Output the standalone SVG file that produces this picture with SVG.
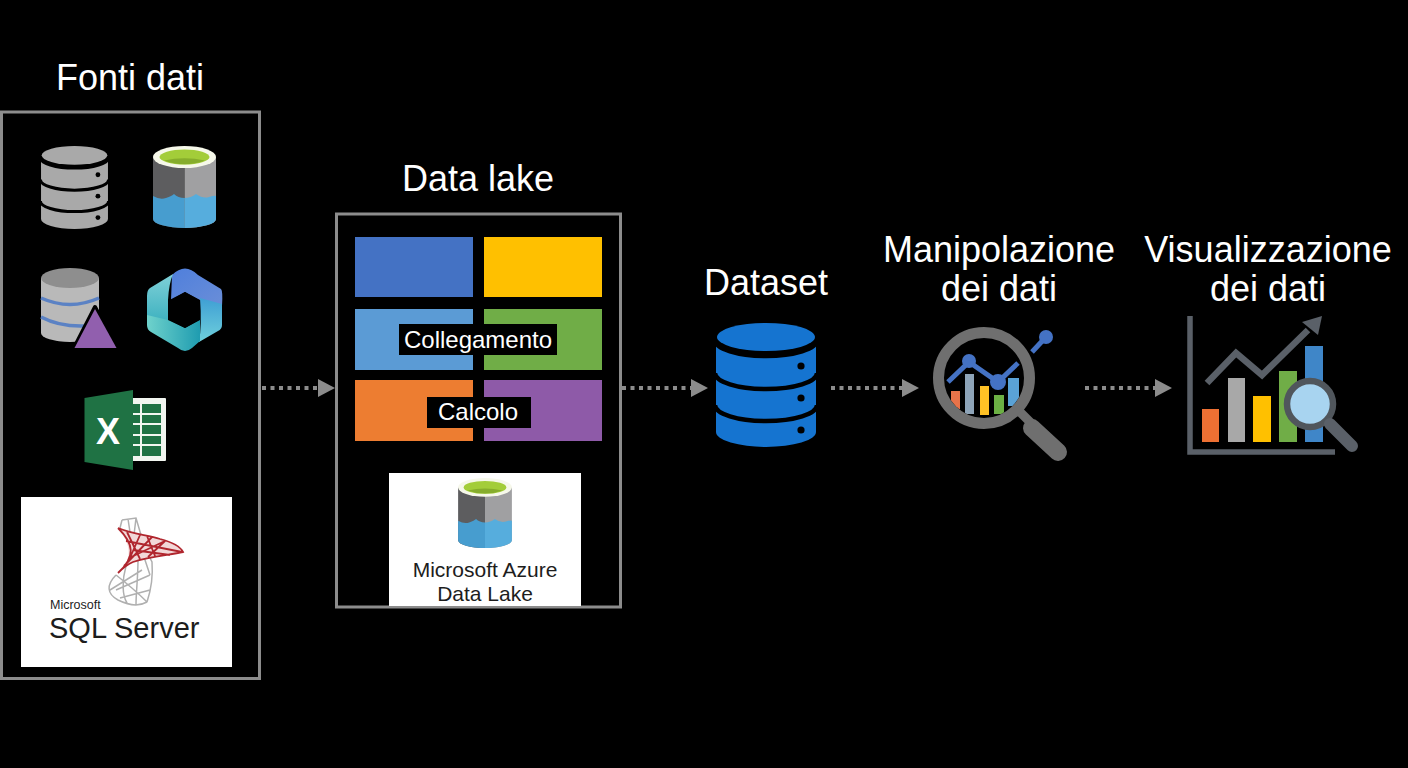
<svg xmlns="http://www.w3.org/2000/svg" width="1408" height="768" viewBox="0 0 1408 768">
<style>
text{font-family:"Liberation Sans",Arial,sans-serif;fill:#fff;text-anchor:middle}
.title{font-size:36px}
.tile-label{font-size:24px}
.frame{fill:none;stroke:#8c8c8c;stroke-width:3}
.flow{stroke:#8c8c8c;stroke-width:4;stroke-dasharray:4 4.5;fill:none}
.band{fill:none;stroke:#000;stroke-width:4.500}
.dark{fill:#000}
.paper{fill:#fff}
.logo{fill:#1d1d1d;text-anchor:start}
.azure{fill:#1d1d1d;font-size:21px}
.red{fill:none;stroke:#b0262e;stroke-width:1.800}
.grey{fill:none;stroke:#b0b0b0;stroke-width:1.500}
</style>
<defs>
<marker id="head" viewBox="0 0 17 18" refX="0" refY="9" markerWidth="17" markerHeight="18" markerUnits="userSpaceOnUse" orient="auto"><path d="M0 0L17 9L0 18Z" fill="#8c8c8c"/></marker>
<symbol id="db" viewBox="0 0 100 124" overflow="visible">
<ellipse cx="50" cy="14" rx="49" ry="14"/>
<path d="M0 18A50 15 0 0 0 100 18V109A50 15 0 0 1 0 109Z"/>
<path class="band" d="M-1 17A51 16 0 0 0 101 17M-1 50A51 16 0 0 0 101 50M-1 82A51 16 0 0 0 101 82"/>
<circle class="dark" cx="85" cy="43" r="3.600"/><circle class="dark" cx="85" cy="75" r="3.600"/><circle class="dark" cx="85" cy="107" r="3.600"/>
</symbol>
<symbol id="lake" viewBox="0 0 63 82" overflow="visible">
<path d="M0 11H31.500V82A31.500 9 0 0 1 0 73Z" fill="#5d5d5f"/>
<path d="M31.500 11H63V73A31.500 9 0 0 1 31.500 82Z" fill="#a0a0a2"/>
<path d="M0 50Q7 54 13 52T21 48Q25 52 31.500 52V82A31.500 9 0 0 1 0 73Z" fill="#479dcf"/>
<path d="M31.500 52Q38 52 43 48Q50 53 56 51T63 50V73A31.500 9 0 0 1 31.500 82Z" fill="#56addd"/>
<ellipse cx="31.500" cy="11" rx="31.500" ry="11" fill="#f6f8ea"/>
<ellipse cx="31.500" cy="11" rx="25" ry="7.500" fill="#a3cd39"/>
<path d="M11 14.500Q31.500 10 52 14.500Q31.500 22 11 14.500Z" fill="#86ad2c"/>
</symbol>
<linearGradient id="hexTop" x1="0" y1="0" x2="1" y2="1"><stop offset="0" stop-color="#4f7fdc"/><stop offset="1" stop-color="#6a8ed8"/></linearGradient>
<linearGradient id="hexLeft" x1="0" y1="0" x2="0" y2="1"><stop offset="0" stop-color="#7fd0d8"/><stop offset="1" stop-color="#3fb2c0"/></linearGradient>
<linearGradient id="hexRight" x1="0" y1="0" x2="0" y2="1"><stop offset="0" stop-color="#3f9fd4"/><stop offset="1" stop-color="#6fd0dc"/></linearGradient>
<linearGradient id="hexBottom" x1="0" y1="0" x2="1" y2="0"><stop offset="0" stop-color="#6fd2cc"/><stop offset="1" stop-color="#1f9cb0"/></linearGradient>
<clipPath id="lens"><circle cx="984" cy="378" r="40"/></clipPath>
</defs>
<rect width="1408" height="768" fill="#000"/>

<g id="connectors">
<path class="flow" d="M262 388H318" marker-end="url(#head)"/>
<path class="flow" d="M622 388H691" marker-end="url(#head)"/>
<path class="flow" d="M831 388H902" marker-end="url(#head)"/>
<path class="flow" d="M1085 388H1155" marker-end="url(#head)"/>
</g>

<g id="fonti-dati">
<text class="title" x="130" y="90">Fonti dati</text>
<rect class="frame" x="1.500" y="112" width="258" height="566.500"/>
<use href="#db" x="41" y="146" width="67" height="83" fill="#a9a9a9"/>
<use href="#lake" x="153" y="146" width="63" height="82"/>
<g id="sql-analysis">
<path d="M41 278H99V333A29 9 0 0 1 41 333Z" fill="#b9b9b9"/>
<ellipse cx="70" cy="278" rx="29" ry="10" fill="#8e8e8e"/>
<path d="M41 298Q70 311 99 298M41 317Q60 327 85 326" fill="none" stroke="#5b82c4" stroke-width="3.500"/>
<path d="M95 307L117 348H74Z" fill="#915fae" stroke="#000" stroke-width="4" stroke-linejoin="round"/>
<path d="M95 309L116.500 348H74.500Z" fill="#915fae"/>
</g>
<g id="hex-logo" stroke-linejoin="round">
<path d="M172 275Q185 262 198 275L221 289Q223 291 222 306L200 300L185 292L171 300Z" fill="url(#hexTop)"/>
<path d="M173 274L150 288Q147 290 147 296V316L168 321V300Q169 283 173 274Z" fill="url(#hexLeft)"/>
<path d="M200 298L222 304V325Q222 329 218 331L199 342Q202 325 200 298Z" fill="url(#hexRight)"/>
<path d="M147 315L168 320L185 328L200 320V341L192 348Q185 354 178 348L151 332Q147 330 147 325Z" fill="url(#hexBottom)"/>
<path d="M185 292L200 300.500V319.500L185 328L168.500 319.500V300.500Z" fill="#000"/>
</g>
<g id="excel">
<rect x="126" y="398" width="40" height="63" rx="1" fill="#f2f6f0"/>
<path d="M141 404H161V456H133V404Z" fill="#1f7244"/>
<path d="M141 404V456M133 414H161M133 424H161M133 435H161M133 445H161" stroke="#f2f6f0" stroke-width="2" fill="none"/>
<path d="M84.500 398L133 390V470L84.500 462Z" fill="#1f7244"/>
<text x="108" y="444" font-size="36" font-weight="700">X</text>
</g>
<g id="sql-server">
<rect class="paper" x="21" y="497" width="211" height="170"/>
<path class="grey" d="M122 520L136 518L141 535L147 552L152 562C153 575 151 590 147 602M122 520L120 528M128 519L130 532M136 518L134 535M116 575C106 585 107 594 118 600C130 606 140 606 147 602M116 575C125 582 140 595 147 602M126 566C122 580 122 595 127 603M138 560C138 578 136 592 136 605M116 590L150 575M110 590L142 570M120 598L150 590M140 545L150 575"/>
<path d="M118 528C132 534 147 535 160 539C172 542 180 546 183 552C170 555 150 556 133 562C126 565 122 569 118 573C128 565 136 550 118 528Z" fill="#f2d8d8"/>
<path class="red" d="M118 528C132 534 147 535 160 539C172 542 180 546 183 552C170 555 150 556 133 562C126 565 122 569 118 573M118 528C134 544 136 556 118 573M127 532L140 559M140 535L129 560M152 537L124 566M165 541L148 557M126 541L182 552M133 550L170 555M129 558L165 541M147 536L155 556"/>
<text class="logo" x="50" y="608.500" font-size="12.500">Microsoft</text>
<text class="logo" x="49" y="637.500" font-size="29">SQL Server</text>
</g>
</g>

<g id="data-lake">
<text class="title" x="478" y="191">Data lake</text>
<rect class="frame" x="336.500" y="214" width="284" height="393"/>
<rect x="355" y="237" width="118" height="60" fill="#4472c4"/>
<rect x="484" y="237" width="118" height="60" fill="#ffc000"/>
<rect x="355" y="309" width="118" height="61" fill="#5b9bd5"/>
<rect x="484" y="309" width="118" height="61" fill="#70ad47"/>
<rect x="355" y="380" width="118" height="61" fill="#ed7d31"/>
<rect x="484" y="380" width="118" height="61" fill="#8e5aa8"/>
<g id="collegamento"><rect class="dark" x="399" y="324" width="158" height="31"/><text class="tile-label" x="478" y="348">Collegamento</text></g>
<g id="calcolo"><rect class="dark" x="427" y="397" width="104" height="31"/><text class="tile-label" x="478" y="420">Calcolo</text></g>
<g id="azure-data-lake">
<rect class="paper" x="389" y="473" width="192" height="133"/>
<use href="#lake" x="457" y="478" width="56" height="70"/>
<text class="azure" x="485" y="576.500">Microsoft Azure</text>
<text class="azure" x="485" y="600.500">Data Lake</text>
</g>
</g>

<g id="dataset">
<text class="title" x="766" y="295">Dataset</text>
<use href="#db" x="716" y="323" width="100" height="124" fill="#1574d0"/>
</g>

<g id="manipolazione">
<text class="title" x="999" y="262">Manipolazione</text>
<text class="title" x="999" y="301">dei dati</text>
<g clip-path="url(#lens)">
<rect x="951" y="391" width="9" height="18" fill="#e8734a"/>
<rect x="965" y="374" width="9" height="40" fill="#8ea4b8"/>
<rect x="980" y="386" width="9" height="29" fill="#ffc125"/>
<rect x="994" y="395" width="10" height="19" fill="#6cb044"/>
<rect x="1008" y="378" width="11" height="28" fill="#5aa2d6"/>
</g>
<path d="M948 382L969 362L998 382L1018 363M1032 352L1046 337" fill="none" stroke="#4472c4" stroke-width="5"/>
<circle cx="969" cy="361" r="7" fill="#4472c4"/>
<circle cx="998" cy="382" r="8" fill="#4472c4"/>
<circle cx="1046" cy="337" r="7" fill="#4472c4"/>
<circle cx="984" cy="378" r="45.500" fill="none" stroke="#6f6f6f" stroke-width="11"/>
<path d="M1020 412L1032 424" stroke="#6f6f6f" stroke-width="9" fill="none"/>
<path d="M1032 428L1058 452" stroke="#6f6f6f" stroke-width="18" stroke-linecap="round" fill="none"/>
</g>

<g id="visualizzazione">
<text class="title" x="1268" y="262">Visualizzazione</text>
<text class="title" x="1268" y="301">dei dati</text>
<path d="M1190 316V452H1335" fill="none" stroke="#5a6068" stroke-width="5.500"/>
<rect x="1202" y="409" width="17" height="33" fill="#ed7033"/>
<rect x="1228" y="378" width="17" height="64" fill="#a8a8a8"/>
<rect x="1253" y="396" width="18" height="46" fill="#ffc000"/>
<rect x="1279" y="371" width="18" height="71" fill="#70ad47"/>
<rect x="1305" y="346" width="18" height="96" fill="#3f86c8"/>
<path d="M1207 383L1236 353L1262 375L1308 330" fill="none" stroke="#5a6068" stroke-width="6.500"/>
<path d="M1322 316L1302 322L1318 335Z" fill="#5a6068"/>
<circle cx="1310" cy="404" r="23" fill="#a8d4f0" stroke="#50565c" stroke-width="6.500"/>
<path d="M1330 424L1352 446" stroke="#5a6068" stroke-width="12" stroke-linecap="round" fill="none"/>
</g>
</svg>
